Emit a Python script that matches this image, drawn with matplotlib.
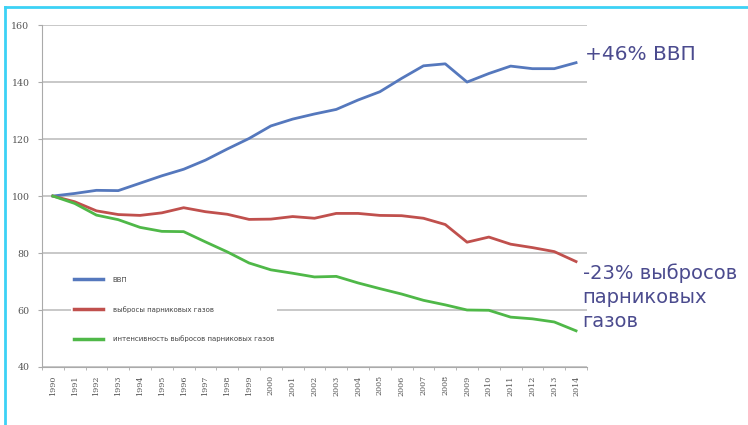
import numpy as np
import matplotlib
matplotlib.use('Agg')
import matplotlib.pyplot as plt
from matplotlib.lines import Line2D

# data (1990 = 100)
years = list(range(1990, 2015))
gdp = [100, 100.9, 102.0, 101.9, 104.5, 107.1, 109.4, 112.6, 116.5, 120.2,
       124.6, 127.0, 128.8, 130.4, 133.7, 136.6, 141.3, 145.7, 146.4, 140.0,
       143.0, 145.6, 144.7, 144.7, 146.8]
emissions = [100, 98.0, 94.8, 93.5, 93.2, 94.1, 95.9, 94.5, 93.6, 91.8,
             91.9, 92.8, 92.2, 93.9, 93.9, 93.2, 93.1, 92.2, 90.0, 83.8,
             85.6, 83.1, 81.9, 80.5, 77.0]
intensity = [100, 97.4, 93.3, 91.7, 89.0, 87.6, 87.5, 83.9, 80.4, 76.5,
             74.1, 72.9, 71.6, 71.8, 69.5, 67.5, 65.6, 63.4, 61.8, 60.0,
             59.9, 57.5, 56.9, 55.8, 52.7]
labels = ['ВВП', 'выбросы парниковых газов',
          'интенсивность выбросов парниковых газов']
colors = ['#5578bd', '#c0504d', '#4fb848']
yticks = [40, 60, 80, 100, 120, 140, 160]

F = plt.figure(figsize=(7.48, 4.25), dpi=100)
ax = F.add_axes([0.0561, 0.1365, 0.7286, 0.8045])

lines = []
for vals, c in zip([gdp, emissions, intensity], colors):
    l, = ax.plot(years, vals, color=c, lw=2.0, zorder=3, solid_joinstyle='round')
    lines.append(l)

ax.set_xlim(1989.5, 2014.5)
ax.set_ylim(40, 160)
ax.set_yticks(yticks)
ax.set_yticklabels([str(v) for v in yticks], family='DejaVu Serif',
                   fontsize=6.8, color='#555555')
ax.set_xticks(years)
ax.set_xticklabels([str(y) for y in years], rotation=90, family='DejaVu Serif',
                   fontsize=5.8, color='#555555')
ax.set_xticks(np.arange(1989.5, 2015, 1), minor=True)
ax.tick_params(axis='x', which='major', length=0, pad=6)
ax.tick_params(axis='x', which='minor', length=2.5, color='#aaaaaa')
ax.tick_params(axis='y', length=3, color='#aaaaaa', pad=6)
ax.grid(axis='y', color='#c4c4c4', lw=1.3, zorder=1)
for s in ['top', 'right']:
    ax.spines[s].set_visible(False)
ax.spines['left'].set_color('#aaaaaa')
ax.spines['bottom'].set_color('#aaaaaa')

leg = ax.legend(lines, labels, loc='upper left',
                bbox_to_anchor=(0.053, 0.272), fontsize=5, frameon=True,
                handlelength=4.3, handletextpad=1.3, labelspacing=3.3,
                borderaxespad=0, borderpad=0.4, fancybox=False)
leg.get_frame().set_facecolor('white')
leg.get_frame().set_edgecolor('none')
leg.get_frame().set_alpha(1)
leg.set_zorder(2)
for t in leg.get_texts():
    t.set_color('#444444')
for h in leg.legend_handles:
    h.set_linewidth(2.5)

txt_color = '#4b4b8e'
F.text(0.782, 0.872, '+46% ВВП', fontsize=14.5, color=txt_color,
       family='DejaVu Sans', va='center', ha='left')
F.text(0.779, 0.301, '-23% выбросов\nпарниковых\nгазов', fontsize=14,
       color=txt_color, family='DejaVu Sans', va='center', ha='left',
       linespacing=1.35)

# cyan frame on top and left
F.add_artist(Line2D([5 / 748, 1], [1 - 6.5 / 425, 1 - 6.5 / 425],
                    color='#3cd2f5', lw=2, transform=F.transFigure))
F.add_artist(Line2D([5 / 748, 5 / 748], [0, 1 - 6.5 / 425],
                    color='#3cd2f5', lw=2, transform=F.transFigure))

plt.savefig('out.png', dpi=100)
plt.close()
